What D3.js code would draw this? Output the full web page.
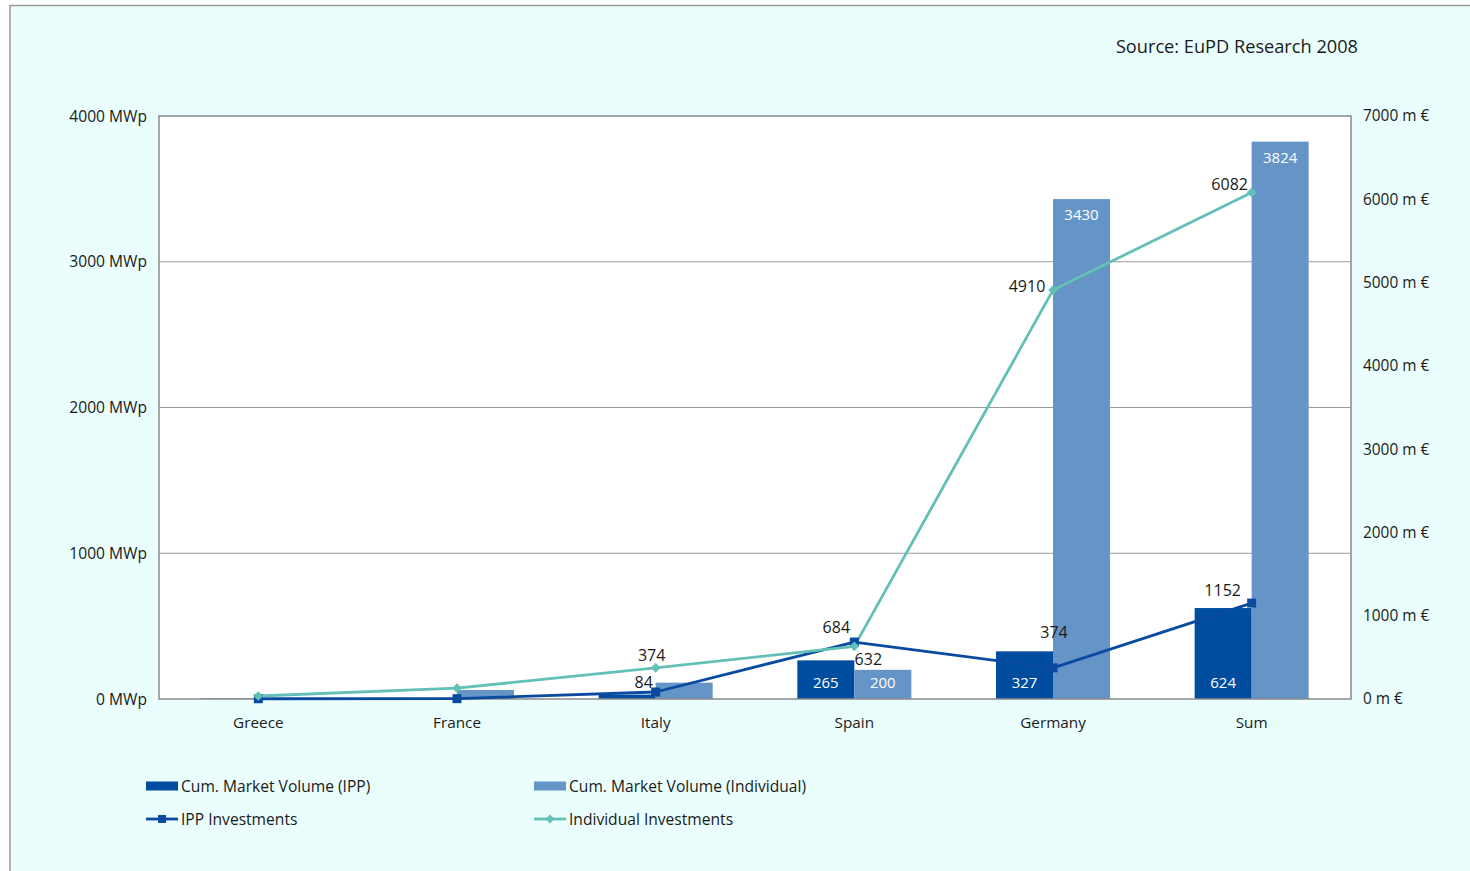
<!DOCTYPE html>
<html>
<head>
<meta charset="utf-8">
<script src="https://cdn.jsdelivr.net/npm/d3@7"></script>
<style>
  html, body { margin: 0; padding: 0; background: #ffffff; }
  svg { display: block; font-family: "Open Sans", "Noto Sans", sans-serif; }
</style>
</head>
<body>
<svg id="chart" width="1470" height="871"></svg>
<script>
// ---- data ----
const categories = ["Greece", "France", "Italy", "Spain", "Germany", "Sum"];
const ippVolume = [3, 1, 30, 265, 327, 624];           // MWp
const indVolume = [5, 62, 112, 200, 3430, 3824];      // MWp
const ippInvest = [3, 4, 84, 684, 374, 1152];         // m €
const indInvest = [36, 130, 374, 632, 4910, 6082];    // m €
const leftTicks = [0, 1000, 2000, 3000, 4000];
const rightTicks = [0, 1000, 2000, 3000, 4000, 5000, 6000, 7000];
const ippVolumeLabelShown = [false, false, false, true, true, true];
const indVolumeLabelShown = [false, false, false, true, true, true];
const ippInvestLabelShown = [false, false, true, true, true, true];
const indInvestLabelShown = [false, false, true, true, true, true];
const sourceText = "Source: EuPD Research 2008";
const legendNames = ["Cum. Market Volume (IPP)", "Cum. Market Volume (Individual)", "IPP Investments", "Individual Investments"];

// ---- style / layout ----
const C = {
  bg: "#eafefd", frame: "#9a9a9a", plotBorder: "#8a8a8a", grid: "#9a9a9a",
  ipp: "#004c9f", ind: "#6594c7", ippLine: "#0a4aa0", indLine: "#62c0b6", text: "#1a1a1a"
};
const M = { left: 159, right: 1351, top: 116, bottom: 699 };

// label offsets (text centre relative to point), by series & index
const ippLabelOff = { 2: [-12, -10], 3: [-18, -15], 4: [1, -36], 5: [-29, -13] };
const indLabelOff = { 2: [-4, -13], 3: [14, 13], 4: [-26, -4], 5: [-22, -8] };

const svg = d3.select("#chart");

// outer background and frame
svg.append("rect").attr("x", 0).attr("y", 0).attr("width", 1470).attr("height", 871).attr("fill", "#ffffff");
svg.append("rect").attr("x", 10).attr("y", 5.5).attr("width", 1500).attr("height", 900)
  .attr("fill", C.bg).attr("stroke", C.frame).attr("stroke-width", 1.5);

// scales
const x = d3.scaleBand().domain(categories).range([M.left, M.right]).paddingInner(0).paddingOuter(0);
const yL = d3.scaleLinear().domain([0, 4000]).range([M.bottom, M.top]);
const yR = d3.scaleLinear().domain([0, 7000]).range([M.bottom, M.top]);
const barW = 57;

// plot area
svg.append("rect").attr("x", M.left).attr("y", M.top)
  .attr("width", M.right - M.left).attr("height", M.bottom - M.top).attr("fill", "#ffffff");

// gridlines
svg.append("g").selectAll("line").data(leftTicks.filter(d => d > 0 && d < 4000)).join("line")
  .attr("x1", M.left).attr("x2", M.right)
  .attr("y1", d => yL(d)).attr("y2", d => yL(d))
  .attr("stroke", C.grid).attr("stroke-width", 1.2);

// bars
const cx = d => x(d) + x.bandwidth() / 2;
svg.append("g").selectAll("rect").data(categories).join("rect")
  .attr("x", d => cx(d) - barW).attr("width", barW)
  .attr("y", (d, i) => yL(ippVolume[i])).attr("height", (d, i) => yL(0) - yL(ippVolume[i]))
  .attr("fill", C.ipp);
svg.append("g").selectAll("rect").data(categories).join("rect")
  .attr("x", d => cx(d)).attr("width", barW)
  .attr("y", (d, i) => yL(indVolume[i])).attr("height", (d, i) => yL(0) - yL(indVolume[i]))
  .attr("fill", C.ind);

// plot border
svg.append("rect").attr("x", M.left).attr("y", M.top)
  .attr("width", M.right - M.left).attr("height", M.bottom - M.top)
  .attr("fill", "none").attr("stroke", C.plotBorder).attr("stroke-width", 1.5);

// bar labels
const barLbl = svg.append("g").attr("font-size", 15).attr("fill", "#ffffff").attr("text-anchor", "middle");
categories.forEach((c, i) => {
  if (ippVolumeLabelShown[i]) {
    barLbl.append("text").attr("x", cx(c) - barW / 2).attr("y", yL(0) - 11).text(ippVolume[i]);
  }
  if (indVolumeLabelShown[i]) {
    const big = indVolume[i] > 1000;
    barLbl.append("text").attr("x", cx(c) + barW / 2)
      .attr("y", big ? yL(indVolume[i]) + 21 : yL(0) - 11).text(indVolume[i]);
  }
});

// lines
const line = d3.line().x(d => cx(d.c)).y(d => yR(d.v));
const ippPts = categories.map((c, i) => ({ c, v: ippInvest[i] }));
const indPts = categories.map((c, i) => ({ c, v: indInvest[i] }));

svg.append("path").attr("d", line(ippPts)).attr("fill", "none")
  .attr("stroke", C.ippLine).attr("stroke-width", 2.8).attr("stroke-linejoin", "round");
svg.append("path").attr("d", line(indPts)).attr("fill", "none")
  .attr("stroke", C.indLine).attr("stroke-width", 2.8).attr("stroke-linejoin", "round");

svg.append("g").selectAll("rect").data(ippPts).join("rect")
  .attr("x", d => cx(d.c) - 4.5).attr("y", d => yR(d.v) - 4.5)
  .attr("width", 9).attr("height", 9).attr("fill", C.ippLine);
svg.append("g").selectAll("path").data(indPts).join("path")
  .attr("d", d3.symbol().type(d3.symbolDiamond2).size(60))
  .attr("transform", d => `translate(${cx(d.c)},${yR(d.v)})`)
  .attr("fill", C.indLine);

// line labels
const lineLbl = svg.append("g").attr("font-size", 16).attr("fill", C.text)
  .attr("text-anchor", "middle").attr("dominant-baseline", "central");
ippPts.forEach((d, i) => {
  if (!ippInvestLabelShown[i]) return;
  const o = ippLabelOff[i];
  lineLbl.append("text").attr("x", cx(d.c) + o[0]).attr("y", yR(d.v) + o[1]).text(d.v);
});
indPts.forEach((d, i) => {
  if (!indInvestLabelShown[i]) return;
  const o = indLabelOff[i];
  lineLbl.append("text").attr("x", cx(d.c) + o[0]).attr("y", yR(d.v) + o[1]).text(d.v);
});

// axes labels
const axL = d3.axisLeft(yL).tickValues(leftTicks).tickSize(0).tickPadding(12).tickFormat(d => d + " MWp");
const gL = svg.append("g").attr("transform", `translate(${M.left},0)`).call(axL);
gL.select(".domain").remove();
gL.selectAll("text").attr("font-size", 15.6).attr("fill", C.text).attr("font-family", "Open Sans, Noto Sans, sans-serif");

const axR = d3.axisRight(yR).tickValues(rightTicks).tickSize(0).tickPadding(12).tickFormat(d => d + " m €");
const gR = svg.append("g").attr("transform", `translate(${M.right},0)`).call(axR);
gR.select(".domain").remove();
gR.selectAll("text").attr("font-size", 15.4).attr("fill", C.text).attr("font-family", "Open Sans, Noto Sans, sans-serif");

const axB = d3.axisBottom(x).tickSize(0).tickPadding(18);
const gB = svg.append("g").attr("transform", `translate(0,${M.bottom})`).call(axB);
gB.select(".domain").remove();
gB.selectAll("text").attr("font-size", 15.3).attr("fill", C.text).attr("font-family", "Open Sans, Noto Sans, sans-serif");

// source
svg.append("text").attr("x", 1358).attr("y", 53).attr("text-anchor", "end")
  .attr("font-size", 18.2).attr("fill", C.text).text(sourceText);

// legend
const leg = svg.append("g").attr("font-size", 15.6).attr("fill", C.text);
const legPos = [[146, 786], [534, 786], [146, 819], [534, 819]];
leg.append("rect").attr("x", legPos[0][0]).attr("y", legPos[0][1] - 4.5).attr("width", 32).attr("height", 9).attr("fill", C.ipp);
leg.append("rect").attr("x", legPos[1][0]).attr("y", legPos[1][1] - 4.5).attr("width", 32).attr("height", 9).attr("fill", C.ind);
leg.append("line").attr("x1", legPos[2][0]).attr("x2", legPos[2][0] + 32).attr("y1", legPos[2][1]).attr("y2", legPos[2][1])
  .attr("stroke", C.ippLine).attr("stroke-width", 2.8);
leg.append("rect").attr("x", legPos[2][0] + 12).attr("y", legPos[2][1] - 4).attr("width", 8).attr("height", 8).attr("fill", C.ippLine);
leg.append("line").attr("x1", legPos[3][0]).attr("x2", legPos[3][0] + 32).attr("y1", legPos[3][1]).attr("y2", legPos[3][1])
  .attr("stroke", C.indLine).attr("stroke-width", 2.8);
leg.append("path").attr("d", d3.symbol().type(d3.symbolDiamond2).size(50))
  .attr("transform", `translate(${legPos[3][0] + 16},${legPos[3][1]})`).attr("fill", C.indLine);
legendNames.forEach((n, i) => {
  leg.append("text").attr("x", legPos[i][0] + 35).attr("y", legPos[i][1]).attr("dominant-baseline", "central").text(n);
});
</script>
</body>
</html>
